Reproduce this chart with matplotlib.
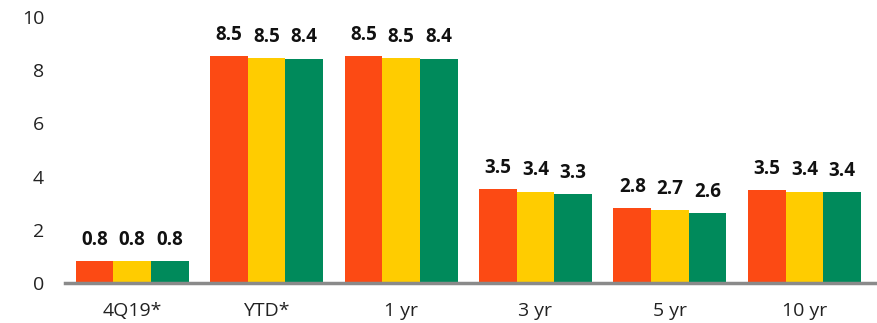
import numpy as np
import matplotlib
matplotlib.use('Agg')
import matplotlib.pyplot as plt

# data
categories = ['4Q19*', 'YTD*', '1 yr', '3 yr', '5 yr', '10 yr']
series_a = [0.83, 8.54, 8.54, 3.52, 2.82, 3.50]
series_b = [0.82, 8.47, 8.47, 3.44, 2.74, 3.44]
series_c = [0.82, 8.44, 8.44, 3.33, 2.64, 3.42]
colors = ['#FC4A14', '#FFCC00', '#008A5B']

plt.rcParams['font.family'] = ['Open Sans', 'DejaVu Sans']

fig = plt.figure(figsize=(8.77, 3.23), dpi=100)
ax = fig.add_axes([0.074, 0.124, 0.926, 0.823])

x = np.arange(len(categories))
w = 0.28
for i, (vals, col) in enumerate(zip([series_a, series_b, series_c], colors)):
    pos = x + (i - 1) * w
    ax.bar(pos, vals, width=w, color=col, edgecolor='none', zorder=2)
    for px, v in zip(pos, vals):
        ax.annotate('%.1f' % v, (px, v), xytext=(0, 8), textcoords='offset points',
                    ha='center', va='bottom', fontsize=13.5, fontweight='bold', color='#111111')

ax.set_xlim(-0.5, 5.54)
ax.set_ylim(0, 10)
ax.set_yticks([0, 2, 4, 6, 8, 10])
ax.set_xticks(x)
ax.set_xticklabels(categories)

for s in ['top', 'right', 'left']:
    ax.spines[s].set_visible(False)
ax.spines['bottom'].set_color('#8a8a8a')
ax.spines['bottom'].set_linewidth(2.5)
ax.spines['bottom'].set_zorder(3)
ax.tick_params(axis='both', length=0, labelsize=14, colors='#222222')
ax.tick_params(axis='y', pad=15)
ax.tick_params(axis='x', pad=14)

fig.savefig('out.png', dpi=100)
